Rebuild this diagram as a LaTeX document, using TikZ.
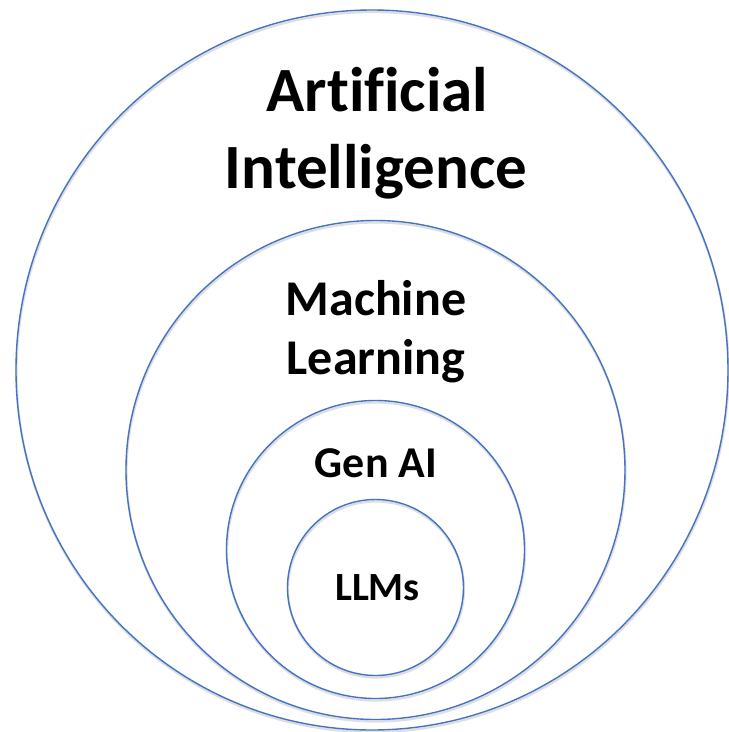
\documentclass[tikz,border=0pt]{standalone}
\usepackage{fontspec}
\setmainfont{Carlito}[Ligatures=NoCommon]
\usetikzlibrary{shapes.geometric}
\definecolor{ringblue}{RGB}{68,114,196}
\definecolor{ringshadow}{RGB}{200,200,200}
\begin{document}
\begin{tikzpicture}[x=1pt,y=-1pt,
  ring/.style={circle,draw=ringblue,line width=1.4pt,inner sep=0pt,outer sep=0pt},
  shade/.style={circle,draw=ringshadow,line width=2.2pt,inner sep=0pt,outer sep=0pt,opacity=0.6},
  lbl/.style={anchor=base,inner sep=0pt}]
\useasboundingbox (0,0) rectangle (729,732);
\fill[white] (0,0) rectangle (729,732);
% shadows
\node[shade,ellipse,minimum width=712pt,minimum height=720pt] (aish) at (372.5,372) {};
\node[shade,minimum size=499pt] (mlsh) at (376,472) {};
\node[shade,minimum size=298pt] (gash) at (376,551.5) {};
\node[shade,minimum size=176pt] (llsh) at (376,589.5) {};
% rings
\node[ring,ellipse,minimum width=712pt,minimum height=720pt] (ai) at (372,370) {};
\node[ring,minimum size=499pt] (ml) at (375.5,470) {};
\node[ring,minimum size=298pt] (ga) at (375.5,549.5) {};
\node[ring,minimum size=176pt] (ll) at (375.5,587.5) {};
% labels
\node[lbl,font=\bfseries\fontsize{63}{70}\selectfont] (ai1) at (377.5,111) {Artificial};
\node[lbl,font=\bfseries\fontsize{63}{70}\selectfont] (ai2) at (376,188) {Intelligence};
\node[lbl,font=\bfseries\fontsize{50}{56}\selectfont] (ml1) at (376,315) {Machine};
\node[lbl,font=\bfseries\fontsize{50}{56}\selectfont] (ml2) at (376,374) {Learning};
\node[lbl,font=\bfseries\fontsize{44}{50}\selectfont] (ga1) at (376,477) {Gen AI};
\node[lbl,font=\bfseries\fontsize{40}{46}\selectfont] (ll1) at (377.5,600) {LLMs};
\end{tikzpicture}
\end{document}
